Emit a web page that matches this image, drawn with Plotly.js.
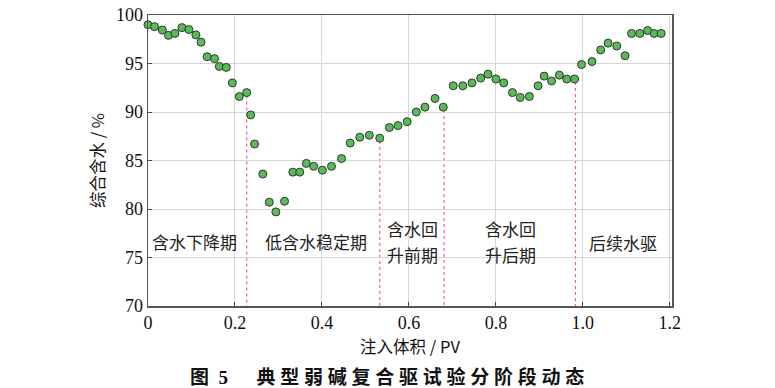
<!DOCTYPE html>
<html>
<head>
<meta charset="utf-8">
<script src="https://cdn.plot.ly/plotly-3.0.1.min.js"></script>
<style>html,body{margin:0;padding:0;background:#fff;}#chart{width:775px;height:388px;}</style>
</head>
<body>
<div id="chart"></div>
<script>
// Injected volume (PV)
const injectedPV = [0.000,0.015,0.033,0.047,0.062,0.078,0.094,0.110,0.122,0.136,0.153,0.164,0.180,0.194,0.210,0.227,0.236,0.245,
  0.264,0.279,0.294,0.314,0.333,0.349,0.364,0.381,0.401,0.422,0.445,0.465,0.487,0.509,0.533,0.555,0.575,
  0.596,0.617,0.637,0.660,0.679,0.702,0.724,0.745,0.765,0.782,0.800,0.818,0.838,0.856,0.877,0.897,0.911,0.928,0.946,0.963,0.981,
  0.997,1.021,1.041,1.058,1.078,1.097,1.112,1.131,1.149,1.164,1.180];
// Composite water cut (%)
const waterCut = [99.0,98.8,98.45,97.9,98.1,98.7,98.5,97.95,97.2,95.7,95.5,94.7,94.6,93.0,91.6,92.0,89.7,86.7,
  83.6,80.7,79.7,80.8,83.8,83.8,84.7,84.4,84.0,84.4,85.2,86.8,87.4,87.6,87.3,88.4,88.6,
  89.0,90.0,90.5,91.4,90.5,92.7,92.7,93.0,93.5,93.9,93.4,93.0,92.0,91.5,91.6,92.7,93.7,93.2,93.8,93.4,93.4,
  94.9,95.2,96.4,97.1,96.8,95.8,98.1,98.1,98.4,98.1,98.1];
// Stage boundaries
const dividerX = [0.227, 0.533, 0.681, 0.983];
const dividerTop = [92.0, 87.3, 90.5, 93.4];
// Stage labels (one entry per text line)
const stageLabels = ["含水下降期", "低含水稳定期", "含水回", "升前期", "含水回", "升后期", "后续水驱"];
const stageX = [0.108, 0.387, 0.609, 0.609, 0.833, 0.833, 1.093];
const stageY = [76.7, 76.7, 78.0, 75.3, 78.0, 75.3, 76.5];
const xTicks = [0, 0.2, 0.4, 0.6, 0.8, 1.0, 1.2];
const xTickText = ["0", "0.2", "0.4", "0.6", "0.8", "1.0", "1.2"];
const yTicks = [70, 75, 80, 85, 90, 95, 100];

const serif = "Liberation Serif, Times New Roman, serif";
const cjk = "Noto Sans CJK SC, sans-serif";
const sp = "\u2005";
const captionBody = "典型弱碱复合驱试验分阶段动态".split("").join(sp);

const shapes = dividerX.map((x, i) => ({
  type: "line", xref: "x", yref: "y", x0: x, x1: x, y0: dividerTop[i] - 0.3, y1: 70,
  line: {color: "#ee5fa0", width: 1.2, dash: "dot"}, layer: "below"
}));

const annotations = stageLabels.map((t, i) => ({
  x: stageX[i], y: stageY[i], xref: "x", yref: "y", text: t, showarrow: false,
  font: {family: cjk, size: 17, color: "#222"}, align: "center"
}));
annotations.push({
  xref: "paper", yref: "paper", x: 0.457, y: -0.24, yanchor: "middle", xanchor: "center",
  text: "<b>图\u2002" + "<span style=\"font-family:Liberation Serif\">5</span>" + "\u2003\u2002</b><b>" + captionBody + "</b>",
  showarrow: false, font: {family: cjk, size: 19, color: "#111"}
});

const trace = {
  x: injectedPV, y: waterCut, type: "scatter", mode: "markers",
  marker: {size: 8, color: "#5cb85c", line: {color: "#2b3a2b", width: 1}},
  cliponaxis: false, hoverinfo: "x+y"
};

const layout = {
  width: 775, height: 388,
  margin: {l: 148, r: 103, t: 15, b: 82},
  paper_bgcolor: "#fff", plot_bgcolor: "#fff",
  showlegend: false,
  xaxis: {
    range: [0, 1.205], tickvals: xTicks, ticktext: xTickText,
    ticks: "inside", ticklen: 4, tickcolor: "#444",
    showgrid: true, gridcolor: "#d6d6d6", gridwidth: 1,
    showline: true, linecolor: "#555", linewidth: 1.5, mirror: true, zeroline: false,
    tickfont: {family: serif, size: 18, color: "#111"},
    title: {text: "注入体积 / PV", font: {family: cjk, size: 16.5, color: "#111"}, standoff: 9},
    automargin: false
  },
  yaxis: {
    range: [70, 100], tickvals: yTicks,
    ticks: "inside", ticklen: 4, tickcolor: "#444",
    showgrid: true, gridcolor: "#d6d6d6", gridwidth: 1,
    showline: true, linecolor: "#555", linewidth: 1.5, mirror: true, zeroline: false,
    tickfont: {family: serif, size: 18, color: "#111"},
    title: {text: "综合含水 / %", font: {family: cjk, size: 16.5, color: "#111"}, standoff: 7},
    automargin: false
  },
  shapes: shapes,
  annotations: annotations
};

Plotly.newPlot("chart", [trace], layout, {displayModeBar: false, staticPlot: true});
</script>
</body>
</html>
